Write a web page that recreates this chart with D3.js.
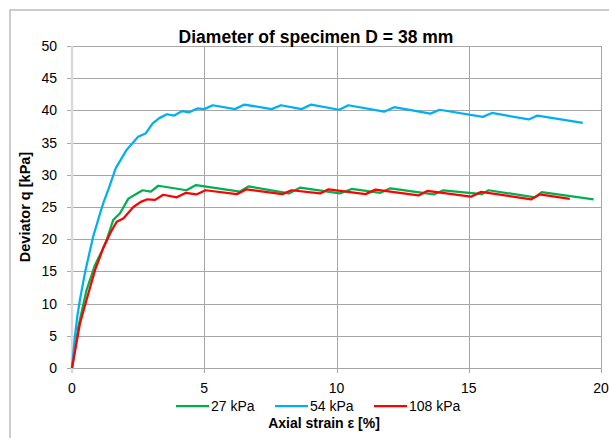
<!DOCTYPE html>
<html>
  <head>
    <meta charset="utf-8">
    <script src="https://cdn.jsdelivr.net/npm/d3@7"></script>
    <style>
      body { margin: 0; background: #fff; }
      text { font-family: "Liberation Sans", Arial, sans-serif; fill: #000; }
    </style>
  </head>
  <body>
    <svg width="609" height="438"></svg>
    <script>

        // Data: axial strain [%] and deviator q [kPa]
        var strain27 = [0, 0.24, 0.55, 0.87, 1.12, 1.31, 1.56, 1.81, 2.13, 2.38, 2.67, 2.98, 3.26, 4.33, 4.69,
                        6.35, 6.67, 8.2, 8.62, 10.13, 10.57, 11.66, 12.04, 13.68, 14.04, 15.5, 15.75, 17.5, 17.76, 19.72];
        var q27 = [0, 6.4, 12.1, 16, 18.1, 19.9, 23, 24, 26.3, 26.9, 27.6, 27.4, 28.3, 27.6, 28.4,
                   27.4, 28.2, 27.1, 28.0, 27.1, 27.8, 27.2, 27.9, 26.95, 27.6, 27.0, 27.6, 26.5, 27.3, 26.2];

        var strain54 = [0, 0.1, 0.2, 0.3, 0.5, 0.8, 1.12, 1.2, 1.4, 1.65, 2.07, 2.5, 2.78, 3.05, 3.3, 3.59, 3.86,
                        4.17, 4.43, 4.74, 5.0, 5.32, 6.16, 6.52, 7.55, 7.9, 8.68, 9.04, 10.1, 10.45, 11.8, 12.18,
                        13.55, 13.9, 15.53, 15.88, 17.27, 17.6, 19.31];
        var q54 = [0, 4.5, 8, 10.6, 15, 20.4, 24.8, 25.8, 28, 31, 33.9, 35.9, 36.4, 38.0, 38.8, 39.4, 39.2,
                   39.9, 39.7, 40.3, 40.2, 40.8, 40.2, 40.9, 40.2, 40.8, 40.2, 40.9, 40.1, 40.8, 39.8, 40.5,
                   39.5, 40.1, 39.0, 39.6, 38.6, 39.2, 38.05];

        var strain108 = [0, 0.3, 0.62, 0.87, 1.18, 1.44, 1.69, 1.94, 2.32, 2.6, 2.85, 3.14, 3.45, 3.96, 4.31,
                         4.7, 5.05, 6.23, 6.6, 7.95, 8.3, 9.38, 9.7, 11.1, 11.47, 13.1, 13.43, 15.08, 15.47,
                         17.36, 17.68, 18.82];
        var q108 = [0, 6.9, 11.6, 15.2, 18.6, 20.9, 22.7, 23.2, 25.0, 25.8, 26.2, 26.1, 26.9, 26.5, 27.2,
                    26.95, 27.6, 27.0, 27.75, 27.0, 27.6, 27.1, 27.75, 27.0, 27.7, 26.8, 27.5, 26.6, 27.35,
                    26.2, 26.95, 26.25];

        var seriesNames = ["27 kPa", "54 kPa", "108 kPa"];
        var seriesColors = ["#00b050", "#00b0f0", "#ff0000"];
        var xTicks = [0, 5, 10, 15, 20];
        var yTicks = [0, 5, 10, 15, 20, 25, 30, 35, 40, 45, 50];

        // Build point lists for every series
        function pairs(xs, ys) {
          var out = [];
          for (var i = 0; i < xs.length; i++) {
            out.push([xs[i], ys[i]]);
          }
          return out;
        }
        var series = [pairs(strain27, q27), pairs(strain54, q54), pairs(strain108, q108)];

        var svg = d3.select("svg");

        // Outer chart frame (runs off the right and bottom edge)
        svg.append("rect")
          .attr("x", 10).attr("y", 10)
          .attr("width", 620).attr("height", 450)
          .attr("fill", "none")
          .attr("stroke", "#bdbdbd")
          .attr("stroke-width", 1.5);

        // Plot area (note: "top" is reserved on window, so use other names)
        var plotLeft = 72, plotRight = 601, plotTop = 46, plotBottom = 368;

        var xScale = d3.scaleLinear().domain([0, 20]).range([plotLeft, plotRight]);
        var yScale = d3.scaleLinear().domain([0, 50]).range([plotBottom, plotTop]);

        // Grid lines
        svg.append("g")
          .selectAll("line")
          .data(yTicks)
          .enter()
          .append("line")
          .attr("x1", plotLeft - 5).attr("x2", plotRight)
          .attr("y1", function(d) { return Math.round(yScale(d)) + 0.5; })
          .attr("y2", function(d) { return Math.round(yScale(d)) + 0.5; })
          .attr("stroke", "#a6a6a6");

        svg.append("g")
          .selectAll("line")
          .data(xTicks.slice(1))
          .enter()
          .append("line")
          .attr("x1", function(d) { return Math.round(xScale(d)) + 0.5; })
          .attr("x2", function(d) { return Math.round(xScale(d)) + 0.5; })
          .attr("y1", plotTop).attr("y2", plotBottom + 5)
          .attr("stroke", "#a6a6a6");

        // Y axis line (light and thick, like the original)
        svg.append("line")
          .attr("x1", plotLeft).attr("x2", plotLeft)
          .attr("y1", plotTop).attr("y2", plotBottom + 5)
          .attr("stroke", "#d9d9d9")
          .attr("stroke-width", 2.5);

        // Tick labels
        svg.append("g")
          .selectAll("text")
          .data(yTicks)
          .enter()
          .append("text")
          .attr("x", 57)
          .attr("y", function(d) { return yScale(d); })
          .attr("dy", "0.36em")
          .attr("text-anchor", "end")
          .style("font-size", "14px")
          .text(function(d) { return d; });

        svg.append("g")
          .selectAll("text")
          .data(xTicks)
          .enter()
          .append("text")
          .attr("x", function(d) { return xScale(d); })
          .attr("y", 388)
          .attr("dy", "0.36em")
          .attr("text-anchor", "middle")
          .style("font-size", "14px")
          .text(function(d) { return d; });

        // The curves
        var line = d3.line()
          .x(function(d) { return xScale(d[0]); })
          .y(function(d) { return yScale(d[1]); });

        svg.append("g")
          .selectAll("path")
          .data(series)
          .enter()
          .append("path")
          .attr("d", line)
          .attr("fill", "none")
          .attr("stroke", function(d, i) { return seriesColors[i]; })
          .attr("stroke-width", 2.25)
          .attr("stroke-linejoin", "round");

        // Titles
        svg.append("text")
          .attr("x", 316).attr("y", 43)
          .attr("text-anchor", "middle")
          .style("font-size", "17.5px")
          .style("font-weight", "bold")
          .text("Diameter of specimen D = 38 mm");

        svg.append("text")
          .attr("x", 324).attr("y", 428)
          .attr("text-anchor", "middle")
          .style("font-size", "14px")
          .style("font-weight", "bold")
          .text("Axial strain ε [%]");

        svg.append("text")
          .attr("transform", "translate(30,207) rotate(-90)")
          .attr("text-anchor", "middle")
          .style("font-size", "14.5px")
          .style("font-weight", "bold")
          .text("Deviator q [kPa]");

        // Legend
        var legendX = [176, 275, 374];
        var legend = svg.append("g")
          .selectAll("g")
          .data(seriesNames)
          .enter()
          .append("g")
          .attr("transform", function(d, i) { return "translate(" + legendX[i] + ",406)"; });

        legend.append("line")
          .attr("x1", 0).attr("x2", 33)
          .attr("stroke", function(d, i) { return seriesColors[i]; })
          .attr("stroke-width", 2.25);

        legend.append("text")
          .attr("x", 35)
          .attr("dy", "0.36em")
          .style("font-size", "14px")
          .text(function(d) { return d; });

    </script>
  </body>
</html>
